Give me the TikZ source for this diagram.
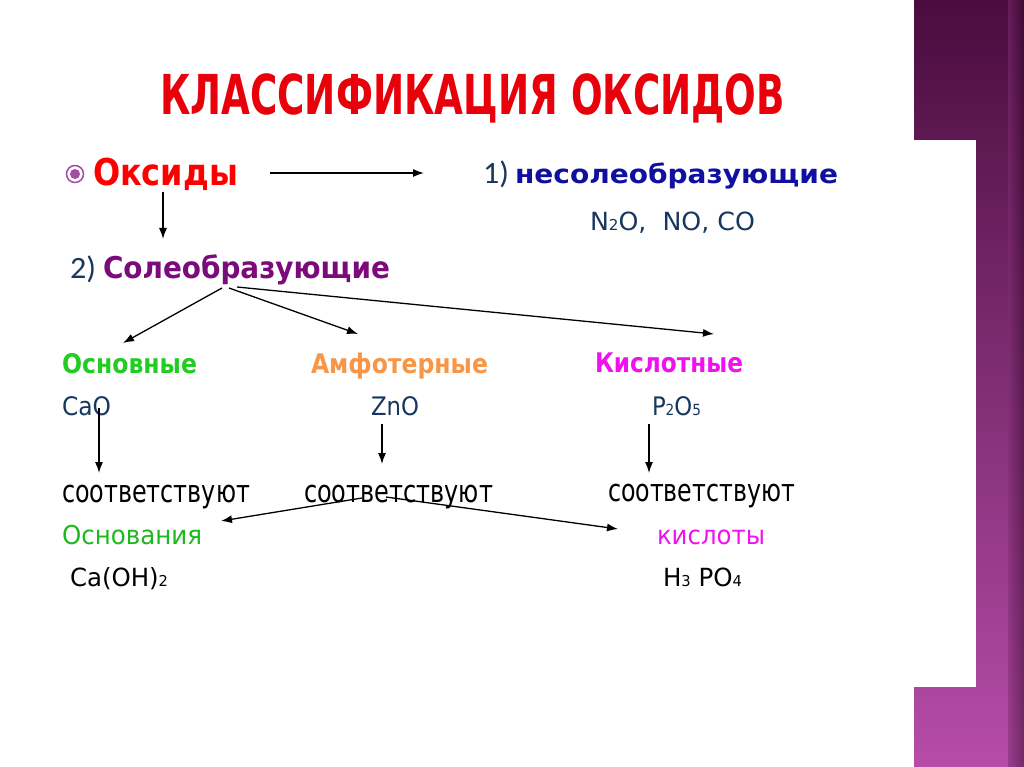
\documentclass[tikz,border=0pt]{standalone}
\usepackage{fontspec}
\setmainfont{DejaVu Sans}
\newfontfamily\numf{Carlito}
\usetikzlibrary{arrows.meta}
\definecolor{titred}{RGB}{232,0,10}
\definecolor{oxred}{RGB}{255,0,0}
\definecolor{bulletc}{RGB}{165,76,165}
\definecolor{navy}{RGB}{23,55,94}
\definecolor{nsblue}{RGB}{16,16,160}
\definecolor{solpurp}{RGB}{123,10,123}
\definecolor{osngreen}{RGB}{34,204,34}
\definecolor{amforange}{RGB}{247,150,70}
\definecolor{kismag}{RGB}{240,16,240}
\definecolor{osn2green}{RGB}{29,185,29}
\definecolor{strtop}{RGB}{74,12,62}
\definecolor{strmid}{RGB}{128,46,116}
\definecolor{strbot}{RGB}{182,76,168}
\definecolor{strdark}{RGB}{50,8,42}
\newcommand\tx[3]{\resizebox{#1pt}{\height}{\fontsize{#2}{#2}\selectfont #3}}
\newcommand\sbs[1]{\scalebox{0.6}{#1}}
\begin{document}
\begin{tikzpicture}[x=1pt,y=-1pt,
  lbl/.style={inner sep=0pt, outer sep=0pt, anchor=base west},
  arr/.style={-{Latex[length=11pt,width=8pt]}, line width=1.3pt, black}]
% background
\fill[white] (0,0) rectangle (1024,767);
\useasboundingbox (0,0) rectangle (1024,767);
\shade[top color=strtop, bottom color=strbot, middle color=strmid] (914,0) rectangle (1024,767);
\shade[left color=strmid, right color=strdark, opacity=0.5] (1008,0) rectangle (1024,767);
\fill[white] (0,140) rectangle (976,687);
% title
\node[lbl, text=titred] (title) at (160,115) {\tx{625}{55}{\bfseries КЛАССИФИКАЦИЯ ОКСИДОВ}};
% bullet
\draw[bulletc, line width=1.5pt] (75,174) circle (8.5);
\fill[bulletc] (75,174) circle (5);
% row 1
\node[lbl, text=oxred] (oks) at (93,186) {\tx{145}{37}{\bfseries Оксиды}};
\node[lbl, text=navy] (n1) at (483,184) {\tx{26}{31}{\numf 1)}};
\node[lbl, text=nsblue] (nesol) at (515,184) {\tx{323}{26}{\bfseries несолеобразующие}};
\node[lbl, text=navy] (nso) at (590,230) {\tx{165}{25}{N\sbs{2}O,\ \ NO, CO}};
% row 2
\node[lbl, text=navy] (n2) at (70,278) {\tx{26}{31}{\numf 2)}};
\node[lbl, text=solpurp] (sol) at (103,278) {\tx{287}{30}{\bfseries Солеобразующие}};
% row 3
\node[lbl, text=osngreen] (osn) at (62,373) {\tx{135}{27}{\bfseries Основные}};
\node[lbl, text=amforange] (amf) at (311,373) {\tx{177}{27}{\bfseries Амфотерные}};
\node[lbl, text=kismag] (kis) at (595,372) {\tx{148}{27}{\bfseries Кислотные}};
% row 4
\node[lbl, text=navy] (cao) at (62,415) {\tx{49}{25.5}{CaO}};
\node[lbl, text=navy] (zno) at (371,415) {\tx{48}{25.5}{ZnO}};
\node[lbl, text=navy] (p2o5) at (652,415) {\tx{49}{25.5}{P\sbs{2}O\sbs{5}}};
% row 5
\node[lbl] (sootv1) at (62,502) {\tx{188}{31}{соответствуют}};
\node[lbl] (sootv2) at (304,502) {\tx{189}{31}{соответствуют}};
\node[lbl] (sootv3) at (608,501) {\tx{187}{31}{соответствуют}};
% row 6
\node[lbl, text=osn2green] (osnov) at (62,544) {\tx{140}{26}{Основания}};
\node[lbl, text=kismag] (kisl) at (657,544) {\tx{108}{26}{кислоты}};
% row 7
\node[lbl] (caoh) at (70,586) {\tx{98}{25}{Ca(OH)\sbs{2}}};
\node[lbl] (h3po4) at (663,586) {\tx{79}{25}{H\sbs{3} PO\sbs{4}}};
% connector coordinates
\coordinate (a1s) at (270,173); \coordinate (a1e) at (424,173);
\coordinate (a2s) at (163,192); \coordinate (a2e) at (163,239);
\coordinate (s1) at (222,288); \coordinate (e1) at (123,343);
\coordinate (s2) at (229,288); \coordinate (e2) at (358,334);
\coordinate (s3) at (237,287); \coordinate (e3) at (714,334);
\coordinate (c1s) at (99,408); \coordinate (c1e) at (99,473);
\coordinate (c2s) at (382,424); \coordinate (c2e) at (382,464);
\coordinate (c3s) at (649,424); \coordinate (c3e) at (649,473);
\coordinate (b1s) at (362,498); \coordinate (b1e) at (221,521);
\coordinate (b2s) at (386,497); \coordinate (b2e) at (618,529);
% connectors
\draw[arr] (a1s) -- (a1e);
\draw[arr] (a2s) -- (a2e);
\draw[arr] (s1) -- (e1);
\draw[arr] (s2) -- (e2);
\draw[arr] (s3) -- (e3);
\draw[arr] (c1s) -- (c1e);
\draw[arr] (c2s) -- (c2e);
\draw[arr] (c3s) -- (c3e);
\draw[arr] (b1s) -- (b1e);
\draw[arr] (b2s) -- (b2e);
\end{tikzpicture}
\end{document}
